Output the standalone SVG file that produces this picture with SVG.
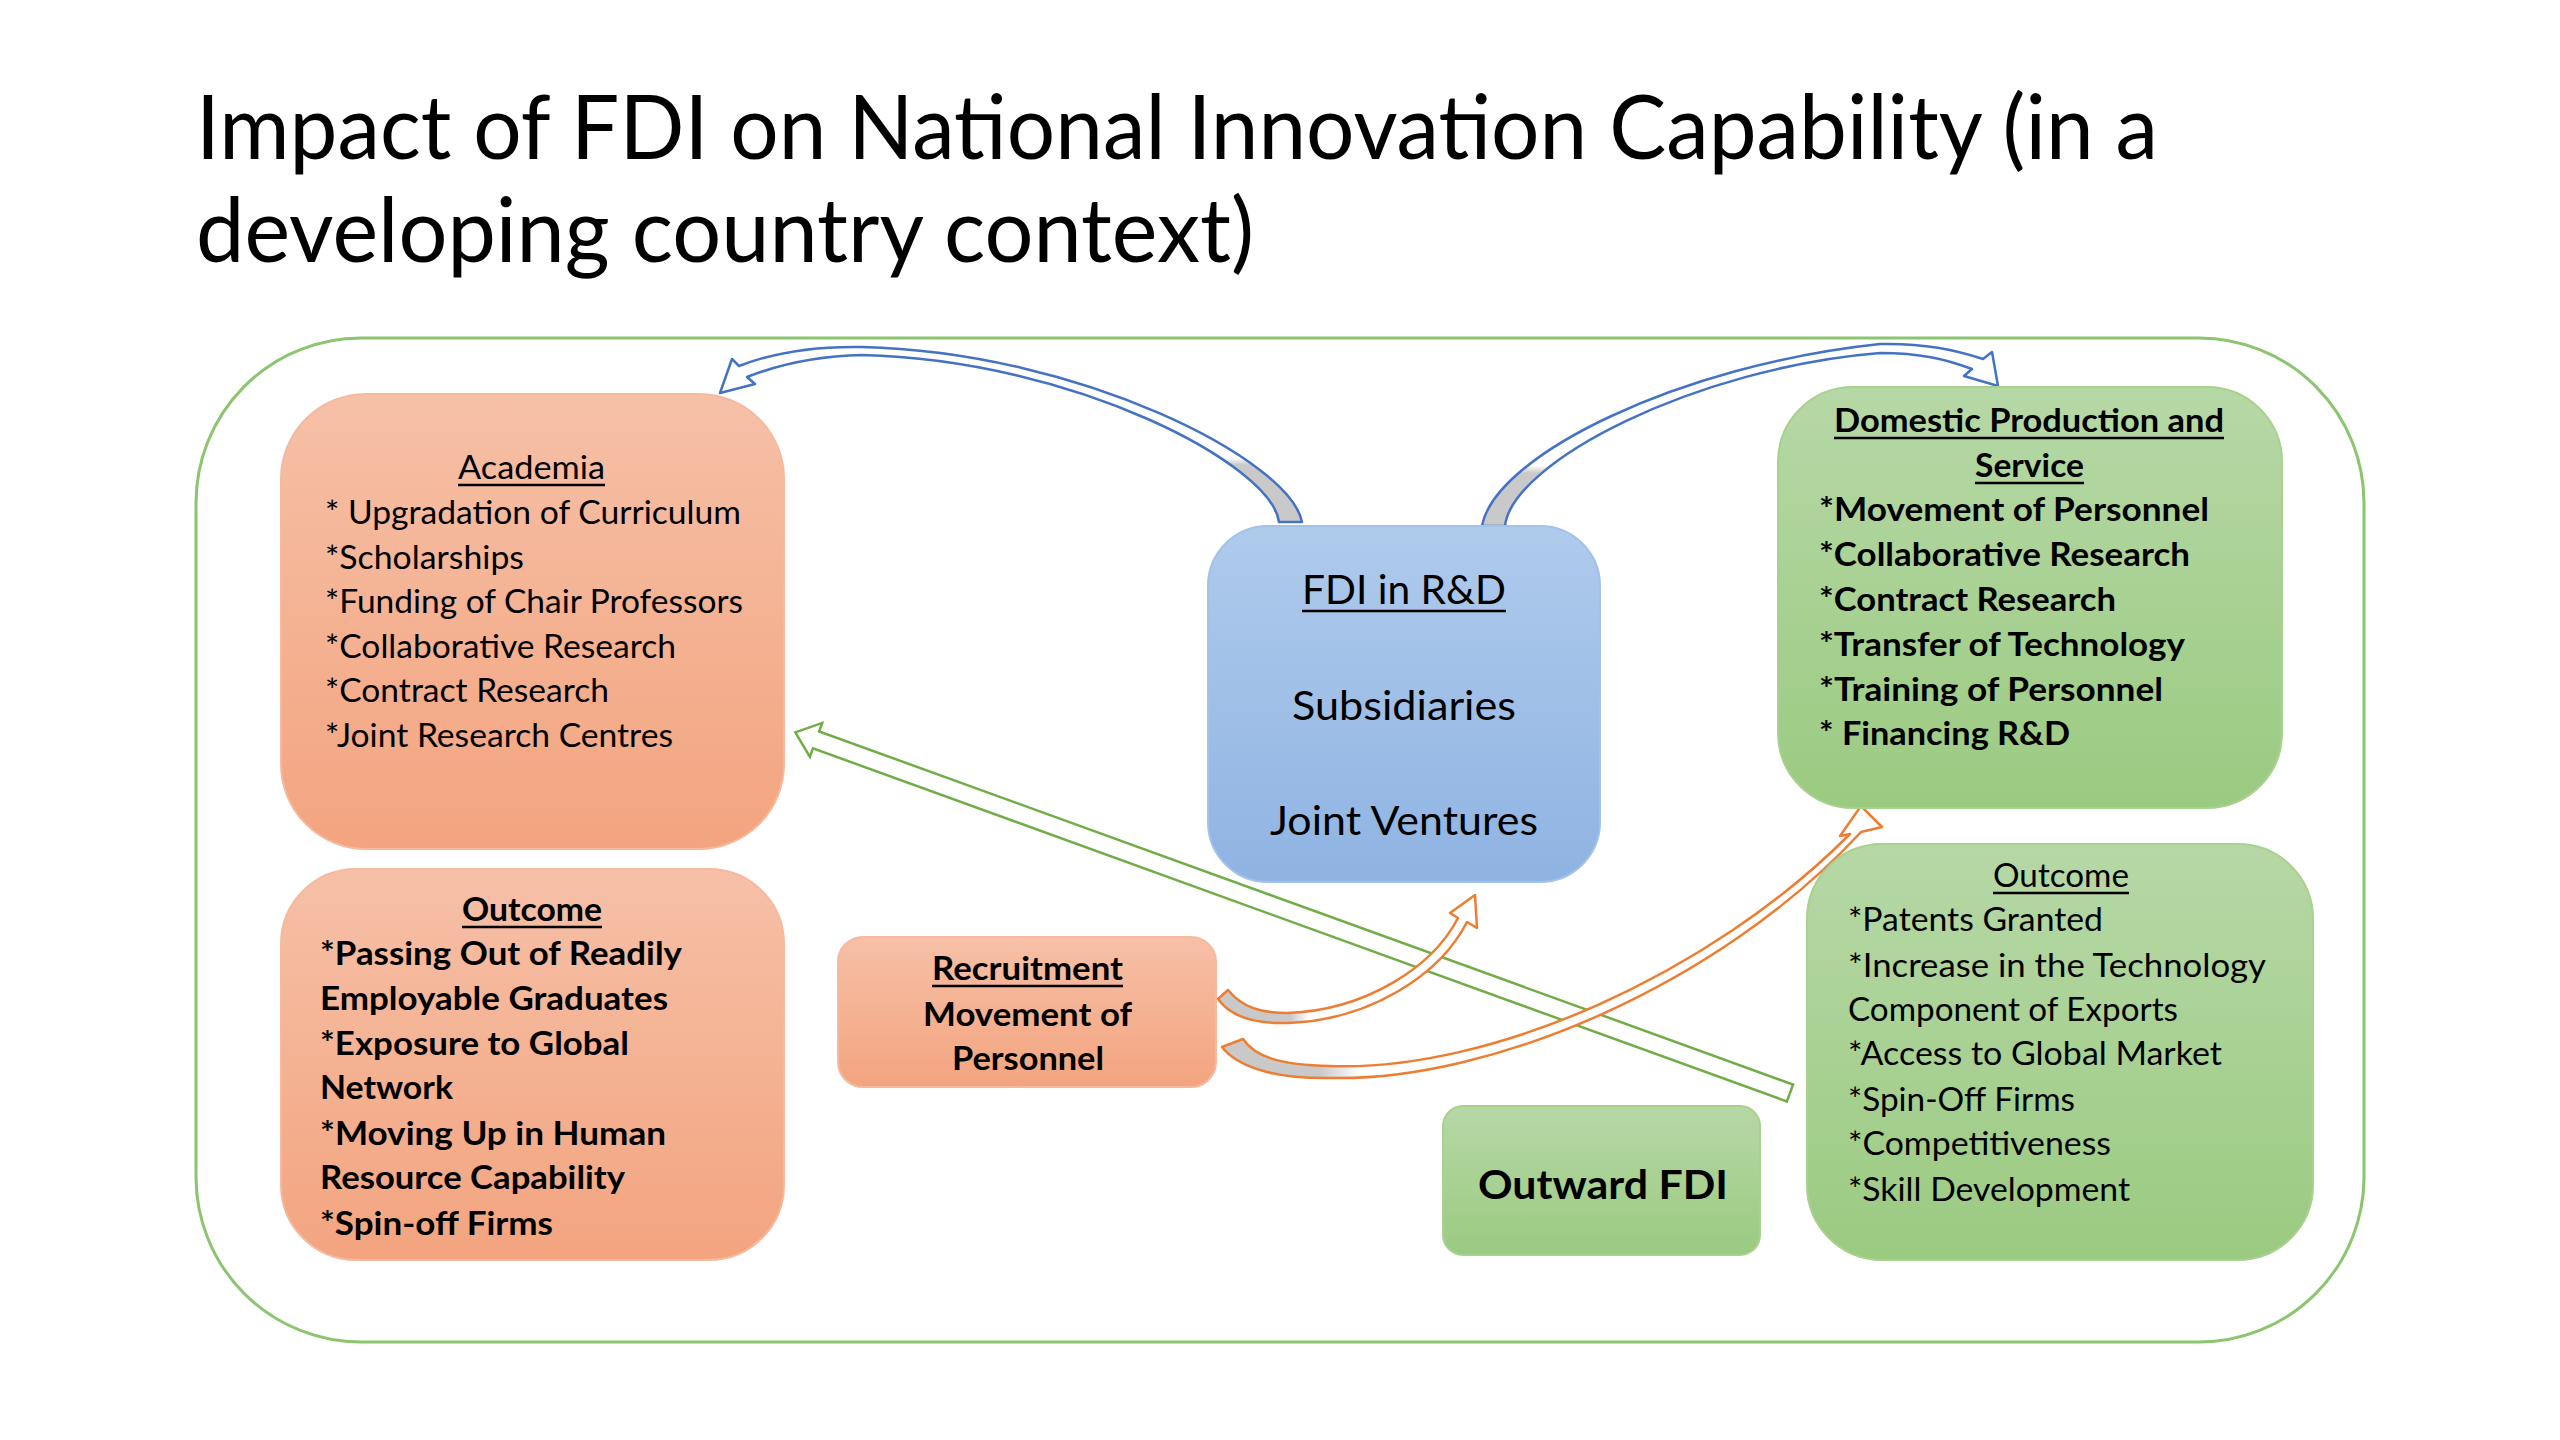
<svg xmlns="http://www.w3.org/2000/svg" width="2560" height="1440" viewBox="0 0 2560 1440">
<style>
.t{font-family:Lato,"Liberation Sans",sans-serif;fill:#000}
.title{font-size:90px}
.body{font-size:33px}
.big{font-size:41px}
.b{font-weight:700}
.ul{stroke:#000;stroke-width:2.5}
.orange{fill:url(#gOrange);stroke:#F5B99E;stroke-width:2}
.blue{fill:url(#gBlue);stroke:#A3C2E8;stroke-width:2}
.green{fill:url(#gGreen);stroke:#A9D18E;stroke-width:2}
</style>
<defs>
<linearGradient id="gOrange" x1="0" y1="0" x2="0" y2="1">
<stop offset="0" stop-color="#F6C0A7"/><stop offset="1" stop-color="#F3A47F"/>
</linearGradient>
<linearGradient id="gBlue" x1="0" y1="0" x2="0" y2="1">
<stop offset="0" stop-color="#AFCBEC"/><stop offset="1" stop-color="#8FB3E2"/>
</linearGradient>
<linearGradient id="gGreen" x1="0" y1="0" x2="0" y2="1">
<stop offset="0" stop-color="#B6D8A6"/><stop offset="1" stop-color="#9BCA81"/>
</linearGradient>
<linearGradient id="gBL" gradientUnits="userSpaceOnUse" x1="0" y1="522" x2="0" y2="430">
<stop offset="0" stop-color="#C9C9C9"/><stop offset="0.62" stop-color="#C9C9C9"/><stop offset="0.7" stop-color="#FFFFFF"/>
</linearGradient>
<linearGradient id="gBR" gradientUnits="userSpaceOnUse" x1="0" y1="526" x2="0" y2="430">
<stop offset="0" stop-color="#C9C9C9"/><stop offset="0.55" stop-color="#C9C9C9"/><stop offset="0.63" stop-color="#FFFFFF"/>
</linearGradient>
<linearGradient id="gO1" gradientUnits="userSpaceOnUse" x1="1216" y1="0" x2="1340" y2="0">
<stop offset="0" stop-color="#C9C9C9"/><stop offset="0.6" stop-color="#C9C9C9"/><stop offset="0.75" stop-color="#FFFFFF"/>
</linearGradient>
<linearGradient id="gO2" gradientUnits="userSpaceOnUse" x1="1220" y1="0" x2="1420" y2="0">
<stop offset="0" stop-color="#C9C9C9"/><stop offset="0.5" stop-color="#C9C9C9"/><stop offset="0.7" stop-color="#FFFFFF"/>
</linearGradient>
</defs>
<rect width="2560" height="1440" fill="#FFFFFF"/>

<g id="title">
<text class="t title" x="196" y="159" textLength="1962" lengthAdjust="spacingAndGlyphs">Impact of FDI on National Innovation Capability (in a</text>
<text class="t title" x="196" y="262" textLength="1058" lengthAdjust="spacingAndGlyphs">developing country context)</text>
</g>

<g id="container">
<rect x="196" y="338" width="2168" height="1004" rx="165" ry="165" fill="none" stroke="#8CC46F" stroke-width="3"/>
</g>

<g id="connectors">
<path id="arrow-outward-academia" transform="translate(1790,1093) rotate(199.93)" d="M0 -9 L1036 -9 L1036 -18 L1058 0 L1036 18 L1036 9 L0 9 Z" fill="#FFFFFF" stroke="#70AD47" stroke-width="2.5" stroke-linejoin="miter"/>
<path id="arrow-fdi-academia" d="M1302 522 C1290 460 1080 352 862 347 C810 346 770 354 739 366 L732 359 L720 393 L755 384 L747 377 C775 366 815 356 862 355 C1075 360 1272 465 1279 522 Z" fill="url(#gBL)" stroke="#4472C4" stroke-width="2.5" stroke-linejoin="round"/>
<path id="arrow-fdi-domestic" d="M1482 526 C1495 455 1680 365 1880 344 C1925 343 1955 350 1983 359 L1992 352 L1998 386 L1964 376 L1972 369 C1945 359 1920 353 1880 353 C1695 368 1512 462 1505 526 Z" fill="url(#gBR)" stroke="#4472C4" stroke-width="2.5" stroke-linejoin="round"/>
<path id="arrow-recruit-fdi" d="M1228 990 C1242 1007 1260 1013 1288 1013 C1365 1010 1432 968 1458 918 L1450 913 L1475 895 L1477 928 L1467 922 C1440 975 1370 1020 1288 1023 C1255 1024 1230 1016 1218 999 Z" fill="url(#gO1)" stroke="#ED7D31" stroke-width="2.5" stroke-linejoin="round"/>
<path id="arrow-recruit-domestic" d="M1243 1039 C1255 1057 1280 1065 1330 1066 C1490 1072 1710 975 1850 834 L1840 836 L1861 806 L1882 827 L1861 832 C1720 985 1490 1082 1330 1078 C1270 1079 1236 1065 1222 1047 Z" fill="url(#gO2)" stroke="#ED7D31" stroke-width="2.5" stroke-linejoin="round"/>
</g>

<g id="node-academia">
<rect class="orange" x="281" y="394" width="503" height="455" rx="85" ry="85"/>
<text class="t body" x="458" y="479" textLength="147" lengthAdjust="spacingAndGlyphs">Academia</text>
<line class="ul" x1="458" y1="485" x2="605" y2="485"/>
<text class="t body" x="325" y="524" textLength="416" lengthAdjust="spacingAndGlyphs">* Upgradation of Curriculum</text>
<text class="t body" x="325" y="569" textLength="199" lengthAdjust="spacingAndGlyphs">*Scholarships</text>
<text class="t body" x="325" y="613" textLength="418" lengthAdjust="spacingAndGlyphs">*Funding of Chair Professors</text>
<text class="t body" x="325" y="658" textLength="351" lengthAdjust="spacingAndGlyphs">*Collaborative Research</text>
<text class="t body" x="325" y="702" textLength="284" lengthAdjust="spacingAndGlyphs">*Contract Research</text>
<text class="t body" x="325" y="747" textLength="348" lengthAdjust="spacingAndGlyphs">*Joint Research Centres</text>
</g>

<g id="node-outcome-academia">
<rect class="orange" x="281" y="869" width="503" height="391" rx="75" ry="75"/>
<text class="t body b" x="462" y="921" textLength="140" lengthAdjust="spacingAndGlyphs">Outcome</text>
<line class="ul" x1="462" y1="927" x2="602" y2="927"/>
<text class="t body b" x="320" y="965" textLength="362" lengthAdjust="spacingAndGlyphs">*Passing Out of Readily</text>
<text class="t body b" x="320" y="1010" textLength="348" lengthAdjust="spacingAndGlyphs">Employable Graduates</text>
<text class="t body b" x="320" y="1055" textLength="309" lengthAdjust="spacingAndGlyphs">*Exposure to Global</text>
<text class="t body b" x="320" y="1099" textLength="133" lengthAdjust="spacingAndGlyphs">Network</text>
<text class="t body b" x="320" y="1145" textLength="346" lengthAdjust="spacingAndGlyphs">*Moving Up in Human</text>
<text class="t body b" x="320" y="1189" textLength="305" lengthAdjust="spacingAndGlyphs">Resource Capability</text>
<text class="t body b" x="320" y="1235" textLength="233" lengthAdjust="spacingAndGlyphs">*Spin-off Firms</text>
</g>

<g id="node-recruitment">
<rect class="orange" x="838" y="937" width="378" height="150" rx="25" ry="25"/>
<text class="t body b" x="932" y="980" textLength="191" lengthAdjust="spacingAndGlyphs">Recruitment</text>
<line class="ul" x1="932" y1="986" x2="1123" y2="986"/>
<text class="t body b" x="923" y="1026" textLength="209" lengthAdjust="spacingAndGlyphs">Movement of</text>
<text class="t body b" x="952" y="1070" textLength="152" lengthAdjust="spacingAndGlyphs">Personnel</text>
</g>

<g id="node-fdi-rd">
<rect class="blue" x="1208" y="526" width="392" height="356" rx="60" ry="60"/>
<text class="t big" x="1302" y="604" textLength="204" lengthAdjust="spacingAndGlyphs">FDI in R&amp;D</text>
<line class="ul" x1="1302" y1="611" x2="1506" y2="611"/>
<text class="t big" x="1292" y="720" textLength="224" lengthAdjust="spacingAndGlyphs">Subsidiaries</text>
<text class="t big" x="1270" y="835" textLength="268" lengthAdjust="spacingAndGlyphs">Joint Ventures</text>
</g>

<g id="node-domestic">
<rect class="green" x="1778" y="387" width="504" height="421" rx="75" ry="75"/>
<text class="t body b" x="1834" y="432" textLength="390" lengthAdjust="spacingAndGlyphs">Domestic Production and</text>
<line class="ul" x1="1834" y1="438" x2="2224" y2="438"/>
<text class="t body b" x="1975" y="477" textLength="109" lengthAdjust="spacingAndGlyphs">Service</text>
<line class="ul" x1="1975" y1="483" x2="2084" y2="483"/>
<text class="t body b" x="1819" y="521" textLength="390" lengthAdjust="spacingAndGlyphs">*Movement of Personnel</text>
<text class="t body b" x="1819" y="566" textLength="371" lengthAdjust="spacingAndGlyphs">*Collaborative Research</text>
<text class="t body b" x="1819" y="611" textLength="297" lengthAdjust="spacingAndGlyphs">*Contract Research</text>
<text class="t body b" x="1819" y="656" textLength="366" lengthAdjust="spacingAndGlyphs">*Transfer of Technology</text>
<text class="t body b" x="1819" y="701" textLength="344" lengthAdjust="spacingAndGlyphs">*Training of Personnel</text>
<text class="t body b" x="1819" y="745" textLength="251" lengthAdjust="spacingAndGlyphs">* Financing R&amp;D</text>
</g>

<g id="node-outcome-domestic">
<rect class="green" x="1807" y="844" width="506" height="416" rx="75" ry="75"/>
<text class="t body" x="1993" y="887" textLength="136" lengthAdjust="spacingAndGlyphs">Outcome</text>
<line class="ul" x1="1993" y1="893" x2="2129" y2="893"/>
<text class="t body" x="1848" y="931" textLength="255" lengthAdjust="spacingAndGlyphs">*Patents Granted</text>
<text class="t body" x="1848" y="977" textLength="418" lengthAdjust="spacingAndGlyphs">*Increase in the Technology</text>
<text class="t body" x="1848" y="1021" textLength="330" lengthAdjust="spacingAndGlyphs">Component of Exports</text>
<text class="t body" x="1848" y="1065" textLength="374" lengthAdjust="spacingAndGlyphs">*Access to Global Market</text>
<text class="t body" x="1848" y="1111" textLength="227" lengthAdjust="spacingAndGlyphs">*Spin-Off Firms</text>
<text class="t body" x="1848" y="1155" textLength="263" lengthAdjust="spacingAndGlyphs">*Competitiveness</text>
<text class="t body" x="1848" y="1201" textLength="282" lengthAdjust="spacingAndGlyphs">*Skill Development</text>
</g>

<g id="node-outward-fdi">
<rect class="green" x="1443" y="1106" width="317" height="149" rx="20" ry="20"/>
<text class="t big b" x="1478" y="1199" textLength="250" lengthAdjust="spacingAndGlyphs">Outward FDI</text>
</g>
</svg>
